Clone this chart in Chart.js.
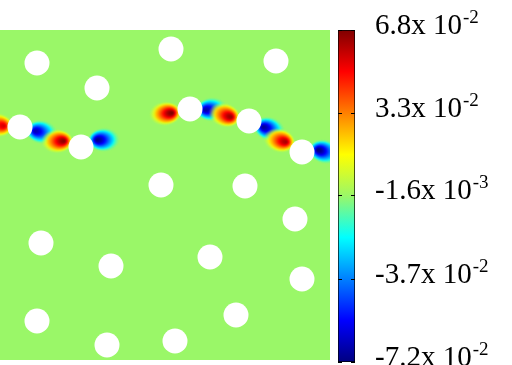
<!DOCTYPE html>
<html><head><meta charset="utf-8">
<script src="https://cdn.jsdelivr.net/npm/chart.js@4.4.0/dist/chart.umd.min.js"></script>
<style>
html,body{margin:0;padding:0;background:#fff;width:512px;height:365px;overflow:hidden}
#field{position:absolute;left:0;top:30px}
#cbar{position:absolute;left:330px;top:0}
</style></head><body>
<canvas id="field" width="330" height="330"></canvas>
<canvas id="cbar" width="182" height="365"></canvas>
<script>
// ---- data (field coordinates, y measured downward from top of the field) ----
const holesX = [37, 171, 276, 97, 20, 81, 190, 249, 302, 161, 245, 295, 41, 111, 210, 302, 37, 107, 175, 236];
const holesY = [33, 19, 31, 58, 97, 117, 79, 91, 122, 155, 156, 189, 213, 236, 227, 249, 291, 315, 311, 285];
// positive (red) lobes of the dipoles
const posX = [4, 64, 172, 231, 286];
const posY = [96, 111, 83, 87, 112];
const posV = [0.056, 0.066, 0.068, 0.064, 0.062];
// negative (blue) lobes of the dipoles
const negX = [35, 97, 205, 263, 318];
const negY = [101, 110, 80, 97, 120];
const negV = [-0.064, -0.070, -0.066, -0.068, -0.072];
// colour bar
const cbMin = -0.072, cbMax = 0.068;
const cbTicks = [0.068, 0.033, -0.0016, -0.037, -0.072];
const cbMantissa = ['6.8', '3.3', '-1.6', '-3.7', '-7.2'];
const cbExponent = ['-2', '-2', '-3', '-2', '-2'];

// ---- styling ----
const BG = [154, 247, 104];
const CMAP = [[0, [0, 0, 128]], [0.125, [0, 0, 255]], [0.375, [0, 255, 255]], [0.5, BG],
              [0.625, [255, 255, 0]], [0.875, [255, 0, 0]], [1, [128, 0, 0]]];
function cmap(t) {
  t = Math.max(0, Math.min(1, t));
  for (let i = 1; i < CMAP.length; i++) {
    if (t <= CMAP[i][0]) {
      const [t0, c0] = CMAP[i - 1], [t1, c1] = CMAP[i];
      const f = (t - t0) / (t1 - t0);
      return c0.map((c, k) => Math.round(c + (c1[k] - c) * f));
    }
  }
  return CMAP[CMAP.length - 1][1];
}
const norm = v => (v - cbMin) / (cbMax - cbMin);
const cache = {};
function lobeCanvas(v) {
  const key = v.toFixed(4);
  if (cache[key]) return cache[key];
  const rx = 16, ry = 12, off = 7;
  const dir = v > 0 ? -1 : 1; // halo extends away from the hole
  const W = 2 * (rx + off) + 2, H = 2 * ry + 2;
  const c = document.createElement('canvas');
  c.width = W; c.height = H;
  const g = c.getContext('2d');
  const sx = rx / ry;
  g.setTransform(sx, 0, 0, 1, W / 2, H / 2);
  const grad = g.createRadialGradient(0, 0, 0, dir * off / sx, 0, ry);
  for (let i = 0; i <= 20; i++) {
    const t = i / 20;
    const val = v * Math.exp(-2.2 * t * t);
    const col = cmap(norm(val));
    const a = t < 0.7 ? 1 : Math.max(0, (1 - t) / 0.3);
    grad.addColorStop(t, `rgba(${col[0]},${col[1]},${col[2]},${a})`);
  }
  g.fillStyle = grad;
  g.fillRect(-W, -H, 2 * W, 2 * H);
  cache[key] = c;
  return c;
}
const angle = i => Math.atan2(negY[i] - posY[i], negX[i] - posX[i]) * 180 / Math.PI;

const bgPlugin = {
  id: 'bg',
  beforeDatasetsDraw(chart) {
    const { ctx, chartArea: a } = chart;
    ctx.save();
    ctx.fillStyle = `rgb(${BG.join(',')})`;
    ctx.fillRect(a.left, a.top, a.right - a.left, a.bottom - a.top);
    ctx.restore();
  }
};

new Chart(document.getElementById('field'), {
  type: 'scatter',
  data: {
    datasets: [
      { label: 'obstacles', data: holesX.map((x, i) => ({ x, y: holesY[i] })),
        pointStyle: 'circle', pointRadius: 12.5, backgroundColor: '#ffffff', borderWidth: 0 },
      { label: 'positive', data: posX.map((x, i) => ({ x, y: posY[i], v: posV[i] })),
        pointStyle: c => lobeCanvas(c.raw.v), rotation: c => angle(c.dataIndex), pointRadius: 10 },
      { label: 'negative', data: negX.map((x, i) => ({ x, y: negY[i], v: negV[i] })),
        pointStyle: c => lobeCanvas(c.raw.v), rotation: c => angle(c.dataIndex), pointRadius: 10 }
    ]
  },
  options: {
    responsive: false, animation: false, devicePixelRatio: 1, events: [],
    layout: { padding: 0, autoPadding: false },
    plugins: { legend: { display: false }, tooltip: { enabled: false } },
    scales: {
      x: { type: 'linear', min: 0, max: 330, display: false },
      y: { type: 'linear', min: 0, max: 330, reverse: true, display: false }
    }
  },
  plugins: [bgPlugin]
});

const cbPlugin = {
  id: 'cbLabels',
  afterDatasetsDraw(chart) {
    const { ctx, chartArea: a } = chart;
    const ys = chart.scales.y;
    ctx.save();
    ctx.strokeStyle = '#000'; ctx.lineWidth = 1;
    ctx.fillStyle = '#000';
    cbTicks.forEach((v, i) => {
      const y = Math.round(ys.getPixelForValue(v)) + 0.5;
      ctx.beginPath();
      ctx.moveTo(a.left, y); ctx.lineTo(a.left + 4, y);
      ctx.moveTo(a.right - 4, y); ctx.lineTo(a.right, y);
      ctx.stroke();
      const base = ys.getPixelForValue(v) + 4;
      ctx.font = '29px "Liberation Serif", serif';
      ctx.textBaseline = 'alphabetic';
      ctx.textAlign = 'left';
      const main = cbMantissa[i] + 'x 10';
      ctx.fillText(main, 45, base);
      const w = ctx.measureText(main).width;
      ctx.font = '19px "Liberation Serif", serif';
      ctx.fillText(cbExponent[i], 45 + w + 1, base - 11);
    });
    ctx.restore();
  }
};

new Chart(document.getElementById('cbar'), {
  type: 'bar',
  data: {
    labels: [''],
    datasets: [{
      data: [[cbMin, cbMax]],
      backgroundColor: c => {
        const a = c.chart.chartArea;
        if (!a) return '#fff';
        const g = c.chart.ctx.createLinearGradient(0, a.bottom, 0, a.top);
        CMAP.forEach(([t, col]) => g.addColorStop(t, `rgb(${col.join(',')})`));
        return g;
      },
      borderColor: '#000', borderWidth: 1, borderSkipped: false,
      barPercentage: 1, categoryPercentage: 1
    }]
  },
  options: {
    responsive: false, animation: false, devicePixelRatio: 1, events: [],
    layout: { padding: { left: 8, right: 157, top: 30, bottom: 3 }, autoPadding: false },
    plugins: { legend: { display: false }, tooltip: { enabled: false } },
    scales: {
      x: { display: false },
      y: { display: false, min: cbMin, max: cbMax }
    }
  },
  plugins: [cbPlugin]
});
</script>
</body></html>
